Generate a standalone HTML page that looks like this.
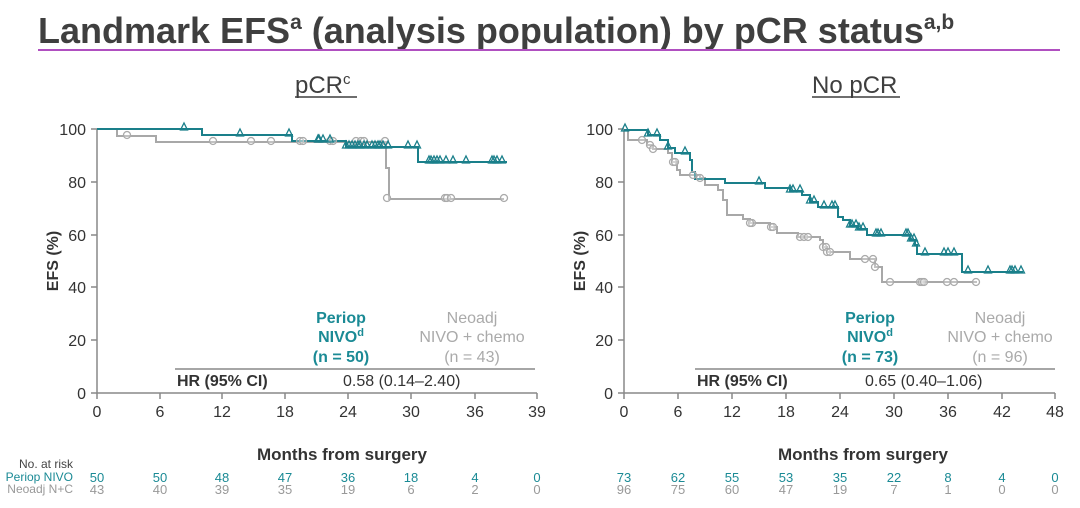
<!DOCTYPE html><html><head><meta charset="utf-8"><style>
body{margin:0;width:1080px;height:503px;background:#fff;overflow:hidden;font-family:"Liberation Sans","DejaVu Sans",sans-serif}
</style></head><body>
<svg id="s" width="1080" height="503" xmlns="http://www.w3.org/2000/svg" font-family="Liberation Sans, DejaVu Sans, sans-serif">
<text x="38" y="43" font-size="36" font-weight="bold" fill="#3f3f3f">Landmark EFS<tspan font-size="21" dy="-14">a</tspan><tspan dy="14"> (analysis population) by pCR status</tspan><tspan font-size="21" dy="-14">a,b</tspan></text>
<rect x="38" y="49" width="1022" height="2" fill="#b04fc0"/>
<text x="295" y="93" font-size="24" fill="#3f3f3f">pCR<tspan font-size="15" dy="-9">c</tspan></text>
<line x1="295" y1="97" x2="357" y2="97" stroke="#3f3f3f" stroke-width="1.5"/>
<text x="812" y="93" font-size="24" fill="#3f3f3f">No pCR</text>
<line x1="812" y1="97" x2="900" y2="97" stroke="#3f3f3f" stroke-width="1.5"/>
<g font-size="16" fill="#333" text-anchor="end">
<text x="86" y="135">100</text><text x="86" y="188">80</text><text x="86" y="241">60</text><text x="86" y="293">40</text><text x="86" y="346">20</text><text x="86" y="399">0</text>
<text x="613" y="135">100</text><text x="613" y="188">80</text><text x="613" y="241">60</text><text x="613" y="293">40</text><text x="613" y="346">20</text><text x="613" y="399">0</text>
</g>
<text transform="translate(58,261) rotate(-90)" font-size="16" font-weight="bold" fill="#333" text-anchor="middle">EFS (%)</text>
<text transform="translate(585,261) rotate(-90)" font-size="16" font-weight="bold" fill="#333" text-anchor="middle">EFS (%)</text>
<g id="ax" stroke="#888" stroke-width="1.5" fill="none"></g>
<g font-size="16" fill="#333" text-anchor="middle" id="xl"></g>
<text x="342" y="460" font-size="17" font-weight="bold" fill="#333" text-anchor="middle">Months from surgery</text>
<text x="863" y="460" font-size="17" font-weight="bold" fill="#333" text-anchor="middle">Months from surgery</text>
<g font-size="12" text-anchor="end">
<text x="73" y="468" fill="#444">No. at risk</text>
<text x="73" y="481" fill="#1a8a95">Periop NIVO</text>
<text x="73" y="493" fill="#999">Neoadj N+C</text>
</g>
<g id="risk" font-size="13" text-anchor="middle"></g>
<line x1="175" y1="369" x2="535" y2="369" stroke="#888" stroke-width="1.5"/>
<line x1="695" y1="369" x2="1055" y2="369" stroke="#888" stroke-width="1.5"/>
<g font-size="16" font-weight="bold" fill="#1a8a95" text-anchor="middle">
<text x="341" y="323">Periop</text><text x="341" y="342">NIVO<tspan font-size="11" dy="-6">d</tspan></text><text x="341" y="362">(n = 50)</text>
<text x="870" y="323">Periop</text><text x="870" y="342">NIVO<tspan font-size="11" dy="-6">d</tspan></text><text x="870" y="362">(n = 73)</text>
</g>
<g font-size="16" fill="#aaa" text-anchor="middle">
<text x="472" y="323">Neoadj</text><text x="472" y="342">NIVO + chemo</text><text x="472" y="362">(n = 43)</text>
<text x="1000" y="323">Neoadj</text><text x="1000" y="342">NIVO + chemo</text><text x="1000" y="362">(n = 96)</text>
</g>
<g font-size="16" fill="#333">
<text x="177" y="386" font-weight="bold">HR (95% CI)</text><text x="343" y="386">0.58 (0.14–2.40)</text>
<text x="697" y="386" font-weight="bold">HR (95% CI)</text><text x="865" y="386">0.65 (0.40–1.06)</text>
</g>
<g id="cv"></g>
</svg>
<script>
var NS="http://www.w3.org/2000/svg";
function el(p,t,a,txt){var e=document.createElementNS(NS,t);for(var k in a)e.setAttribute(k,a[k]);if(txt!==undefined)e.textContent=txt;document.getElementById(p).appendChild(e);return e;}
function axes(x0,x1,ticks,xs){
 el('ax','path',{d:'M'+x0+' 129V393H'+x1});
 [129,182,235,287,340,393].forEach(function(y){el('ax','line',{x1:x0-6,y1:y,x2:x0,y2:y});});
 ticks.forEach(function(t,i){var x=xs[i];el('ax','line',{x1:x,y1:393,x2:x,y2:399});el('xl','text',{x:x,y:417},t);});
}
var LX=[97,160,222,285,348,411,475,537];
var RX=[624,678,732,786,840,894,948,1002,1055];
axes(97,537,[0,6,12,18,24,30,36,39],LX);
axes(624,1055,[0,6,12,18,24,30,36,42,48],RX);
var a1=[50,50,48,47,36,18,4,0],b1=[43,40,39,35,19,6,2,0],a2=[73,62,55,53,35,22,8,4,0],b2=[96,75,60,47,19,7,1,0,0];
LX.forEach(function(x,i){el('risk','text',{x:x,y:482,fill:'#1a8a95'},a1[i]);el('risk','text',{x:x,y:494,fill:'#999'},b1[i]);});
RX.forEach(function(x,i){el('risk','text',{x:x,y:482,fill:'#1a8a95'},a2[i]);el('risk','text',{x:x,y:494,fill:'#999'},b2[i]);});
function step(pts,col){var d='M'+pts[0][0]+' '+pts[0][1];for(var i=1;i<pts.length;i++){d+='H'+pts[i][0]+'V'+pts[i][1];}
 el('cv','path',{d:d,fill:'none',stroke:col,'stroke-width':2});}
function tri(x,y){el('cv','path',{d:'M'+(x-3.5)+' '+(y+1)+'L'+x+' '+(y-6)+'L'+(x+3.5)+' '+(y+1)+'Z',fill:'none',stroke:'#1a7f8a','stroke-width':1.3});}
function circ(x,y){el('cv','circle',{cx:x,cy:y-1,r:3.5,fill:'#fff','fill-opacity':0.3,stroke:'#aaa','stroke-width':1.3});}
var T='#1a7f8a',G='#a8a8a8';
step([[97,129],[117,136],[156,142],[386,168],[389,199],[504,199]],G);
step([[97,129],[202,135],[292,141],[346,147],[418,162],[507,162]],T);
[127,213,251,271,300,303,330,333,356,361,364,385,387,445,447,451,504].forEach(function(x){var y=x<117?129:x<156?136:x<386?142:199;circ(x,y);});
[184,240,289,318,319,323,330,346,349,352,355,358,360,364,367,372,375,378,380,383,388,408,417,429,431,434,437,440,446,453,466,492,494,497,502].forEach(function(x){var y=x<202?129:x<292?135:x<346?141:x<418?147:162;tri(x,y);});
var gp=[[628,140],[647,145],[653,149],[668,153],[672,162],[677,170],[680,175],[700,178],[705,185],[718,190],[723,200],[727,215],[743,219],[750,223],[770,227],[777,233],[798,237],[820,240],[823,247],[827,252],[850,259],[875,267],[882,282]];
step([[624,130]].concat(gp).concat([[977,282]]),G);
var tp=[[648,135],[660,140],[668,148],[675,153],[690,160],[692,172],[695,179],[725,183],[765,188],[790,191],[802,195],[810,202],[818,207],[838,217],[843,220],[850,226],[858,229],[867,235],[910,240],[915,245],[917,254],[962,272]];
step([[624,130]].concat(tp).concat([[1023,272]]),T);
[642,650,653,673,675,693,700,752,750,771,773,800,804,808,823,826,827,830,865,873,875,890,920,922,924,947,954,976].forEach(function(x){
 var y=140;gp.forEach(function(p){if(x>=p[0])y=p[1];});circ(x,y+1);});
[625,648,657,668,685,759,790,793,800,810,814,824,832,835,850,852,856,859,863,876,878,881,906,908,911,914,916,925,944,948,954,968,988,1010,1012,1015,1021].forEach(function(x){
 var y=130;tp.forEach(function(p){if(x>=p[0])y=p[1];});tri(x,y);});
</script>
</body></html>
